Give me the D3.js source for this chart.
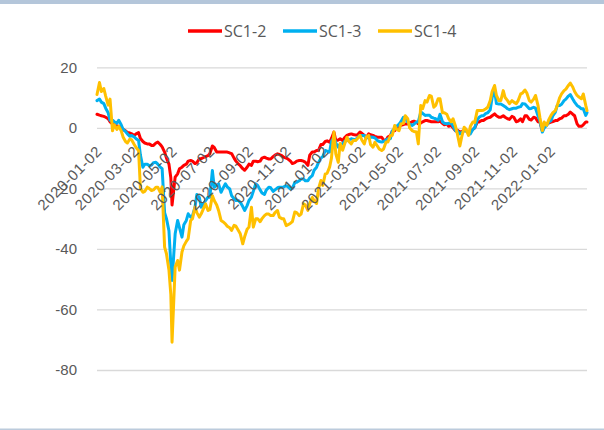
<!DOCTYPE html>
<html><head><meta charset="utf-8">
<script src="https://cdn.jsdelivr.net/npm/d3@7"></script>
<style>
html,body{margin:0;padding:0;background:#fff;}
svg{display:block;font-family:"Open Sans","Noto Sans",sans-serif;}
</style></head>
<body>
<svg id="c" width="604" height="430"></svg>
<script>
const dates = [
"2020-01-02","2020-01-06","2020-01-09","2020-01-13","2020-01-16","2020-01-20","2020-01-23","2020-01-27","2020-01-30",
"2020-02-03","2020-02-06","2020-02-10","2020-02-13","2020-02-17","2020-02-20","2020-02-24","2020-02-27",
"2020-03-02","2020-03-05","2020-03-09","2020-03-12","2020-03-16","2020-03-19","2020-03-23","2020-03-26","2020-03-30",
"2020-04-02","2020-04-06","2020-04-09","2020-04-13","2020-04-16","2020-04-20","2020-04-23","2020-04-27","2020-04-30",
"2020-05-02","2020-05-07","2020-05-11","2020-05-14","2020-05-18","2020-05-21","2020-05-25","2020-05-28",
"2020-06-01","2020-06-04","2020-06-08","2020-06-11","2020-06-15","2020-06-18","2020-06-22","2020-06-25","2020-06-29",
"2020-07-02","2020-07-06","2020-07-09","2020-07-13","2020-07-16","2020-07-20","2020-07-23","2020-07-27","2020-07-30",
"2020-08-03","2020-08-06","2020-08-10","2020-08-13","2020-08-17","2020-08-20","2020-08-24","2020-08-27","2020-08-31",
"2020-09-03","2020-09-07","2020-09-10","2020-09-14","2020-09-17","2020-09-21","2020-09-24","2020-09-28",
"2020-10-01","2020-10-05","2020-10-08","2020-10-12","2020-10-15","2020-10-19","2020-10-22","2020-10-26","2020-10-29",
"2020-11-02","2020-11-05","2020-11-09","2020-11-12","2020-11-16","2020-11-19","2020-11-23","2020-11-26","2020-11-30",
"2020-12-03","2020-12-07","2020-12-10","2020-12-14","2020-12-17","2020-12-21","2020-12-24","2020-12-28","2020-12-31",
"2021-01-04","2021-01-07","2021-01-11","2021-01-14","2021-01-18","2021-01-21","2021-01-25","2021-01-28",
"2021-02-01","2021-02-04","2021-02-08","2021-02-11","2021-02-15","2021-02-18","2021-02-22","2021-02-25",
"2021-03-01","2021-03-04","2021-03-08","2021-03-11","2021-03-15","2021-03-18","2021-03-22","2021-03-25","2021-03-29",
"2021-04-01","2021-04-05","2021-04-08","2021-04-12","2021-04-15","2021-04-19","2021-04-22","2021-04-26","2021-04-29",
"2021-05-03","2021-05-06","2021-05-10","2021-05-13","2021-05-17","2021-05-20","2021-05-24","2021-05-27","2021-05-31",
"2021-06-03","2021-06-07","2021-06-10","2021-06-14","2021-06-17","2021-06-21","2021-06-24","2021-06-28",
"2021-07-01","2021-07-05","2021-07-08","2021-07-12","2021-07-15","2021-07-19","2021-07-22","2021-07-26","2021-07-29",
"2021-08-02","2021-08-05","2021-08-09","2021-08-12","2021-08-16","2021-08-19","2021-08-23","2021-08-26","2021-08-30",
"2021-09-02","2021-09-06","2021-09-09","2021-09-13","2021-09-16","2021-09-20","2021-09-23","2021-09-27","2021-09-30",
"2021-10-04","2021-10-07","2021-10-11","2021-10-14","2021-10-18","2021-10-21","2021-10-25","2021-10-28",
"2021-11-01","2021-11-04","2021-11-08","2021-11-11","2021-11-15","2021-11-18","2021-11-22","2021-11-25","2021-11-29",
"2021-12-02","2021-12-06","2021-12-09","2021-12-13","2021-12-16","2021-12-20","2021-12-23","2021-12-27","2021-12-30",
"2022-01-03","2022-01-06","2022-01-10","2022-01-13","2022-01-17","2022-01-20","2022-01-24","2022-01-27","2022-01-31",
"2022-02-03","2022-02-07","2022-02-10","2022-02-14","2022-02-17","2022-02-21","2022-02-24","2022-02-28","2022-03-02"];

const sc12 = [
4.5,4.2,4,3.8,3.5,3,2,1.3,1,
0.6,0.5,0,-0.5,-1,-1.5,-1.7,-2,
-2.5,-2,-1.6,-3.5,-4.5,-5,-5.3,-5.3,-5.8,
-5.8,-5,-4.7,-5.5,-6.3,-8,-10,-12,-16.5,
-25.5,-16.3,-15.2,-13.5,-13,-12.4,-12,-11,
-10.8,-11,-11.8,-11.5,-10.2,-10.2,-9.8,-9.5,-9.2,
-8.5,-6,-6.5,-8,-8,-8,-8,-8,-8,
-8.3,-8.5,-10,-11,-12,-12.5,-13.5,-14,-13,
-12,-12.4,-11,-11,-11.2,-11,-10,-9.7,
-10,-10.3,-10.3,-9.5,-9,-8.6,-8.8,-9.2,-9.7,
-10,-10.3,-11,-11.8,-11.5,-11,-10.8,-10.8,-11,
-11.4,-12.4,-9,-8,-8,-7.5,-7.5,-5.5,-5.5,
-4.5,-4.3,-4.7,-3.5,-1.4,-4.2,-4,-3.6,
-4.2,-3.3,-2.5,-2.2,-2,-2.2,-2.4,-2.3,
-1.4,-1.8,-2.5,-3.3,-2,-2.3,-2.5,-2.8,-3.1,
-3.1,-3.1,-4,-4.2,-3,-2.5,-1.2,-0.9,-0.3,
0.5,0.8,1.1,1.3,1.3,1.5,2,2.2,1.8,
1.3,1.6,2,2.4,2.4,2.2,2,2,
2,2,2.2,1.5,1,1.3,0.5,0.8,0,
-1,-0.8,-1.4,-1.2,-0.9,-1,-1.2,-1.4,-0.5,
0,1.9,1.9,2.4,2.4,3,3.3,3.5,4,
4.6,4,3.5,3.5,4,3.5,3,2.8,
3.8,3.5,2,2.2,3,2,4,4,2.8,
2.6,3.5,3.3,2,1.9,-0.9,0.5,1.3,1.6,
1.9,2.1,2.4,2.4,3,3.2,4,4,4.5,
5.2,4.5,4,1.3,0.5,0.5,1,1.9,1.9];

const sc13 = [
9,9.5,8.5,8,6.5,5,2.5,2.5,2,
1.5,2.5,1,-0.5,-1.2,-2,-2.8,-2.5,
-3,-3.6,-4.2,-9,-13,-12,-12,-12.5,-12.3,
-11.5,-11.4,-12,-13,-13.5,-28,-30,-34,-45,
-50.4,-35,-30.6,-33,-36.1,-32,-30.6,-28.4,
-29.5,-29,-26.2,-22,-23,-26.2,-25,-24,-22.9,
-22.9,-14.1,-19.6,-19,-18.5,-21.3,-20,-18.5,-19.5,
-20.2,-22.4,-23.5,-24,-24,-24.6,-26,-27.3,-25.7,
-24,-22.9,-21,-18.5,-19,-20.5,-21.5,-22,
-20.5,-19.6,-19.8,-21,-20.5,-19.8,-19.6,-19.6,-19.5,
-19.1,-19.5,-20.2,-20,-18,-18,-17.5,-16.9,-16.9,
-17.5,-17.5,-16.5,-15.8,-14,-13,-11.5,-10,-9.5,
-7.5,-7.7,-8,-4.5,-3.1,-5,-6.4,-5.3,
-5.3,-4.5,-4.2,-4,-3.6,-3.8,-3.9,-3.2,
-2.5,-2.5,-2.5,-3.4,-3.2,-3,-3.1,-3.3,-4.2,
-4.5,-4.7,-4.5,-4,-3.6,-3.6,-1,-0.3,0.5,
1.2,2,3.5,3,1.9,1.2,0.8,1.2,1.9,
2,5.2,4.8,4.1,4.2,4.2,3.5,3.2,
3,2.5,4.5,2,1.5,1.3,1.5,1.5,0.5,
-1,-1,-2,-1.5,-0.9,-1,-1.7,-2,-0.5,
0,2.5,3.5,4,4,4.8,5,6,10,
12.3,8,7.9,7.9,7.4,7,6.3,6,
6.3,6.5,6.5,6.8,7,8,7.9,7.2,6.3,
6.4,6.8,6.5,4,2.4,-1.4,0,0.8,1.8,
2.4,4,5.2,7.4,7.4,7.8,9,9.5,10.5,
11,9.5,8.5,7.4,7,6.3,6.3,4.1,5];

const sc14 = [
11,15,12,13,10.5,7.5,9.5,-1,1,
-0.5,0.5,-1,-3,-4.5,-5,-3.7,-4,
-5.5,-6.5,-7.5,-20,-21.3,-21,-19.6,-20,-20.7,
-20.5,-19.6,-19.6,-21.3,-19.5,-39.4,-41.6,-47,-55,
-70.8,-46,-43.8,-47,-41,-39,-37.5,-36.6,
-30.6,-30,-26.2,-28,-29.5,-28.4,-26.5,-25.1,-27.3,
-27,-22.4,-24,-25.5,-27.3,-30.6,-31,-31.7,-32.5,
-33,-33.9,-32.2,-32.5,-33.9,-35,-38.3,-36,-33.5,
-32.8,-26.2,-32.8,-30,-30,-31,-30,-29,
-28.5,-28.5,-29,-29,-28,-27.3,-29.5,-30,-30,
-32.3,-32,-31.5,-31,-27.8,-28,-29,-28.5,-25.1,
-25.5,-27.3,-25,-23,-24,-25,-20.2,-17.4,-19,
-15.2,-15,-13,-10,-1.4,-8.6,-11.4,-5.2,
-7.4,-5.5,-3.1,-4.5,-5.3,-4.2,-4.2,-3.5,
-2.5,-4,-5.3,-3,-2.5,-5.5,-6.4,-4.8,-6,
-7,-7.5,-7,-4.7,-4.7,-2.5,-2.5,0.8,-0.5,
-0.9,1.3,1.5,4,3,0,-0.9,-1.2,-1.4,
-5.3,7.4,6.3,9,8.5,10.7,10.5,6.8,
7.4,9.6,9.6,5,5,4.5,3,2,3,
0.5,-2,-6,-3,0.2,-0.5,-2.5,0.5,1.9,
1.8,5.7,5.7,5.7,5.8,6.3,6.8,9,12,
14,10.7,9,9,12.3,10,9,8,
9,8.5,8,9,11.2,11.5,12.5,11.5,9,
8.5,9.5,10.7,7.4,3.5,-0.9,1.9,0.8,2.5,
4.1,5,5.7,7.4,10,11.2,12.3,12.8,14,
14.8,13.5,12,10.7,10.2,9.6,11.2,7.4,5.7];

const seriesNames = ["SC1-2","SC1-3","SC1-4"];
const seriesColors = ["#ff0000","#00b0f0","#ffc000"];
const yTicks = [20,0,-20,-40,-60,-80];
const xTickLabels = ["2020-01-02","2020-03-02","2020-05-02","2020-07-02","2020-09-02","2020-11-02","2021-01-02","2021-03-02","2021-05-02","2021-07-02","2021-09-02","2021-11-02","2022-01-02"];
const xDomain = ["2020-01-02","2022-03-02"];

const parse = d3.utcParse("%Y-%m-%d");
const svg = d3.select("#c");
const x = d3.scaleUtc().domain(xDomain.map(parse)).range([97,587]);
const y = d3.scaleLinear().domain([-80,20]).range([370,67.3]);

// frame lines
svg.append("rect").attr("x",0).attr("y",0).attr("width",604).attr("height",4).attr("fill","#b4c6da");
svg.append("rect").attr("x",0).attr("y",428.5).attr("width",604).attr("height",1.5).attr("fill","#bccbdc");

// gridlines + y labels
const yAxis = d3.axisLeft(y).tickValues(yTicks).tickSize(-(587-97)).tickFormat(d => String(d));
const gy = svg.append("g").attr("transform","translate(97,0)").call(yAxis);
gy.select(".domain").remove();
gy.selectAll(".tick line").attr("stroke","#d9d9d9").attr("stroke-width",1.3);
gy.selectAll(".tick text").attr("fill","#595959").style("font-size","15px").attr("x",-20);

// lines
const all = [sc12, sc13, sc14];
const line = d3.line().x((d,i)=>x(parse(dates[i]))).y(d=>y(d));
all.forEach((s,k)=>{
  svg.append("path").datum(s).attr("d",line).attr("fill","none")
    .attr("stroke",seriesColors[k]).attr("stroke-width",3)
    .attr("stroke-linejoin","round").attr("stroke-linecap","round");
});

// x labels (axis crossing at 0)
const xAxis = d3.axisBottom(x).tickValues(xTickLabels.map(parse)).tickSize(0).tickFormat(d3.utcFormat("%Y-%m-%d"));
const gx = svg.append("g").attr("transform","translate(0,"+y(0)+")").call(xAxis);
gx.select(".domain").remove();
gx.selectAll(".tick text")
  .attr("fill","#595959").style("font-size","15px").style("letter-spacing","0.7px")
  .attr("text-anchor","end").attr("dy",null).attr("y",null)
  .attr("transform","translate(5.5,24.3) rotate(-45)");

// legend
const lx = [188,283,378];
seriesNames.forEach((n,k)=>{
  svg.append("line").attr("x1",lx[k]).attr("x2",lx[k]+34).attr("y1",31).attr("y2",31)
    .attr("stroke",seriesColors[k]).attr("stroke-width",3.3);
  svg.append("text").attr("x",lx[k]+36).attr("y",36.5).attr("fill","#595959")
    .style("font-size","16px").text(n);
});
</script>
</body></html>
